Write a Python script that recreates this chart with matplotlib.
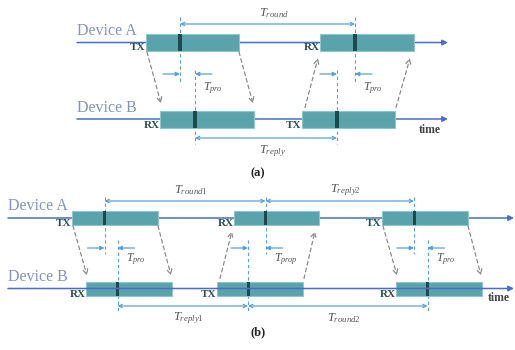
import matplotlib
matplotlib.use("Agg")
import matplotlib.pyplot as plt
from matplotlib.patches import Rectangle, FancyArrowPatch

plt.rcParams['mathtext.fontset'] = 'custom'
plt.rcParams['mathtext.it'] = 'Liberation Serif:italic'
plt.rcParams['mathtext.rm'] = 'Liberation Serif'

# ---------------- data (pixel positions of the timing diagram) ----------------
# panel (a)
a_dev_y = [42.5, 119]                      # Device A, Device B line heights
a_A_boxes = [(146, 239), (320, 414)]       # packet start/end on Device A
a_A_marks = [180, 355]
a_A_labels = ["TX", "RX"]
a_B_boxes = [(160, 254), (302, 395)]
a_B_marks = [195, 337]
a_B_labels = ["RX", "TX"]
a_line_x = (77, 448)
a_spans = [  # (x0, x1, y, label, label_y)
    (180, 355, 24, r"$T_{round}$", 13),
    (195, 337, 138, r"$T_{reply}$", 151),
]
a_pro = [(180, 195, r"$T_{pro}$"), (337, 355, r"$T_{pro}$")]

# panel (b)
b_dev_y = [218, 288.5]
b_A_boxes = [(72, 158), (234, 319), (382, 468)]
b_A_marks = [104.5, 265.5, 414]
b_A_labels = ["TX", "RX", "TX"]
b_B_boxes = [(86, 172), (217, 303), (396, 482)]
b_B_marks = [117.5, 248, 427.5]
b_B_labels = ["RX", "TX", "RX"]
b_line_x = (8, 514)
b_spans = [
    (104.5, 265.5, 201, r"$T_{round1}$", 190),
    (265.5, 414, 201, r"$T_{reply2}$", 190),
    (117.5, 248, 306, r"$T_{reply1}$", 318),
    (248, 427.5, 306, r"$T_{round2}$", 318),
]
b_pro = [(104.5, 117.5, r"$T_{pro}$"), (248, 265.5, r"$T_{prop}$"), (414, 427.5, r"$T_{pro}$")]

# ---------------- style ----------------
BOX = "#5ba3ab"
BOX_EDGE = "#8fc6cc"
MARK = "#1d4a4c"
LINE = "#4a6ccc"
DEV = "#8494be"
LAB = "#2b4f50"
ARR = "#5aa0dd"
SIG = "#8c8c8c"
TXT = "#555555"
SERIF = ["Liberation Serif", "DejaVu Serif"]

fig = plt.figure(figsize=(5.15, 3.5), dpi=100)
ax = fig.add_axes([0, 0, 1, 1])
ax.set_xlim(0, 515)
ax.set_ylim(350, 0)
ax.axis("off")


def timeline(x0, x1, y, zorder=1):
    ax.annotate("", xy=(x1, y), xytext=(x0, y),
                arrowprops=dict(arrowstyle="-|>", color=LINE, lw=1.1,
                                mutation_scale=8, shrinkA=0, shrinkB=0),
                zorder=zorder)


def boxes(bx, marks, labels, y, hh, mw, dy_lab):
    for (s, e), m, lab in zip(bx, marks, labels):
        ax.add_patch(Rectangle((s, y - hh), e - s, 2 * hh, facecolor=BOX,
                               edgecolor=BOX_EDGE, lw=0.8, zorder=2))
        ax.add_patch(Rectangle((m - mw / 2, y - hh), mw, 2 * hh,
                               facecolor=MARK, edgecolor="none", zorder=3))
        ax.text(s - 0.5, y + dy_lab, lab, ha="right", va="center",
                fontsize=8, fontweight="bold", color=LAB, family=SERIF, zorder=4)


def span(x0, x1, y, label, ly):
    ax.annotate("", xy=(x1, y), xytext=(x0, y),
                arrowprops=dict(arrowstyle="<->", color=ARR, lw=0.9,
                                mutation_scale=6, shrinkA=0, shrinkB=0), zorder=5)
    ax.text((x0 + x1) / 2 + 6, ly, label, ha="center", va="center",
            fontsize=9, color=TXT, zorder=5)


def vdash(x, y0, y1):
    ax.plot([x, x], [y0, y1], color=ARR, lw=0.8, ls=(0, (3, 2.5)), zorder=1.5)


def pro(xl, xr, y, label, ly):
    ax.annotate("", xy=(xl, y), xytext=(xl - 17, y),
                arrowprops=dict(arrowstyle="-|>", color=ARR, lw=0.9,
                                mutation_scale=6, shrinkA=0, shrinkB=0), zorder=5)
    ax.annotate("", xy=(xr, y), xytext=(xr + 17, y),
                arrowprops=dict(arrowstyle="-|>", color=ARR, lw=0.9,
                                mutation_scale=6, shrinkA=0, shrinkB=0), zorder=5)
    ax.text(xr + 8, ly, label, ha="left", va="center", fontsize=8.5,
            color=TXT, zorder=5)


def signal(x0, y0, x1, y1):
    ax.add_patch(FancyArrowPatch((x0, y0), (x1, y1), arrowstyle="->",
                                 mutation_scale=9, color=SIG, lw=0.9,
                                 ls=(0, (3, 2.5)), shrinkA=0, shrinkB=0,
                                 zorder=4))


def panel(dev_y, A_boxes, A_marks, A_labels, B_boxes, B_marks, B_labels,
          line_x, spans, pros, hh, mw, dev_dy, time_xy, cap, cap_y,
          sig_gap, line_over_B, pro_y, pro_ly, vd_top_A, vd_bot_A, vd_top_B, vd_bot_B):
    yA, yB = dev_y
    for y, name in zip(dev_y, ["Device A", "Device B"]):
        ax.text(line_x[0], y - dev_dy, name, ha="left", va="center",
                fontsize=11.5, color=DEV, family=SERIF)
    timeline(*line_x, yA)
    timeline(*line_x, yB, zorder=3.5 if line_over_B else 1)
    boxes(A_boxes, A_marks, A_labels, yA, hh, mw, 5.5)
    boxes(B_boxes, B_marks, B_labels, yB, hh, mw, 6)
    ax.text(*time_xy, "time", ha="left", va="center", fontsize=8.5,
            fontweight="bold", color="#444444", family=SERIF)
    # vertical reference lines
    for m in A_marks:
        vdash(m, vd_top_A, vd_bot_A)
    for m in B_marks:
        vdash(m, vd_top_B, vd_bot_B)
    for s in spans:
        span(*s)
    for xl, xr, lab in pros:
        pro(xl, xr, pro_y, lab, pro_ly)
    # signal arrows
    for (sa, ea), (sb, eb), lab in zip(A_boxes, B_boxes, A_labels):
        if lab == "TX":
            signal(sa + 1, yA + hh + 1, sb + 1, yB - hh - sig_gap)
            signal(ea, yA + hh + 1, eb - 1, yB - hh - sig_gap)
        else:
            signal(sb + 3, yB - hh - 3, sa - 2, yA + hh + sig_gap)
            signal(eb + 1, yB - hh - 3, ea - 4, yA + hh + sig_gap)
    ax.text(cap[0], cap_y, cap[1], ha="center", va="center", fontsize=9,
            fontweight="bold", color="#222222", family=SERIF)


panel(a_dev_y, a_A_boxes, a_A_marks, a_A_labels, a_B_boxes, a_B_marks, a_B_labels,
      a_line_x, a_spans, a_pro, 8.5, 4, 11.5, (419, 130), (258, "(a)"), 173,
      7, False, 74, 88, 17, 82, 70, 144)

panel(b_dev_y, b_A_boxes, b_A_marks, b_A_labels, b_B_boxes, b_B_marks, b_B_labels,
      b_line_x, b_spans, b_pro, 7, 3, 11.5, (488, 298), (258, "(b)"), 332,
      6, True, 248, 259, 197, 254, 240, 313)

fig.savefig("out.png", dpi=100)
